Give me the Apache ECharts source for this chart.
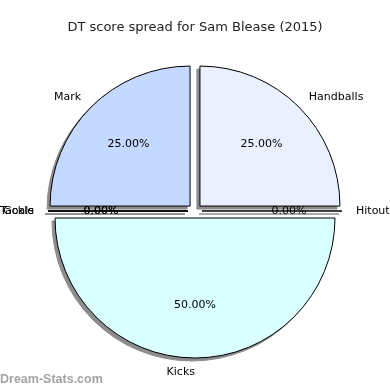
<!DOCTYPE html>
<html><head><meta charset="utf-8">
<script src="https://cdn.jsdelivr.net/npm/echarts@6/dist/echarts.min.js"></script>
<style>html,body{margin:0;padding:0;background:#fff}#c{width:390px;height:390px}</style>
</head><body><div id="c"></div>
<script>
const titleText = 'DT score spread for Sam Blease (2015)';
const categories = ['Hitout', 'Handballs', 'Mark', 'Tackle', 'Goals', 'Kicks'];
const values = [0, 1, 1, 0, 0, 2];
const colors = ['#d9d9ff', '#eaf0ff', '#c5d8ff', '#ffd9d9', '#ffffd9', '#d9ffff'];
const watermark = 'Dream-Stats.com';

const R = 140;
const C = [195, 211];
const SH = 3;
const font = 'DejaVu Sans';

const mk = (extra) => categories.map((n, i) => Object.assign({ name: n, value: values[i], selected: true }, extra ? extra(i) : {}));

const common = {
  type: 'pie', startAngle: 0, clockwise: false,
  selectedMode: 'multiple', selectedOffset: 7, avoidLabelOverlap: false,
  minAngle: 0, stillShowZeroSum: true,
  emphasis: { disabled: true }, silent: true,
  labelLayout: { hideOverlap: false }
};

const chart = echarts.init(document.getElementById('c'), null, { renderer: 'canvas' });
chart.setOption({
  animation: false,
  title: { text: titleText, left: 'center', top: 16,
    textStyle: { fontFamily: font, fontSize: 13, fontWeight: 'normal', color: '#222' } },
  graphic: [{ type: 'text', left: 0, top: 373,
    style: { text: watermark, fontFamily: 'Liberation Sans', fontSize: 12.5, fontWeight: 'bold', fill: '#a3a3a3' } }],
  series: [
    Object.assign({}, common, {
      center: [C[0] - SH, C[1] + SH], radius: R, z: 1,
      data: mk(),
      itemStyle: { color: '#8c8c8c', borderColor: '#8c8c8c', borderWidth: 1 },
      label: { show: false }, labelLine: { show: false }
    }),
    Object.assign({}, common, {
      center: C, radius: R, z: 2,
      data: mk(i => ({ itemStyle: { color: colors[i] } })),
      itemStyle: { borderColor: '#000', borderWidth: 1 },
      label: { show: true, position: 'outside', formatter: '{b}', distanceToLabelLine: 0,
        fontFamily: font, fontSize: 11, color: '#000' },
      labelLine: { show: false, length: 14, length2: 0 }
    }),
    Object.assign({}, common, {
      center: C, radius: [0.2 * R, R], z: 3,
      data: mk(),
      itemStyle: { color: 'rgba(0,0,0,0)', borderWidth: 0 },
      label: { show: true, position: 'inside',
        formatter: p => p.percent.toFixed(2) + '%',
        fontFamily: font, fontSize: 11, color: '#000' },
      labelLine: { show: false }
    })
  ]
});
</script></body></html>
